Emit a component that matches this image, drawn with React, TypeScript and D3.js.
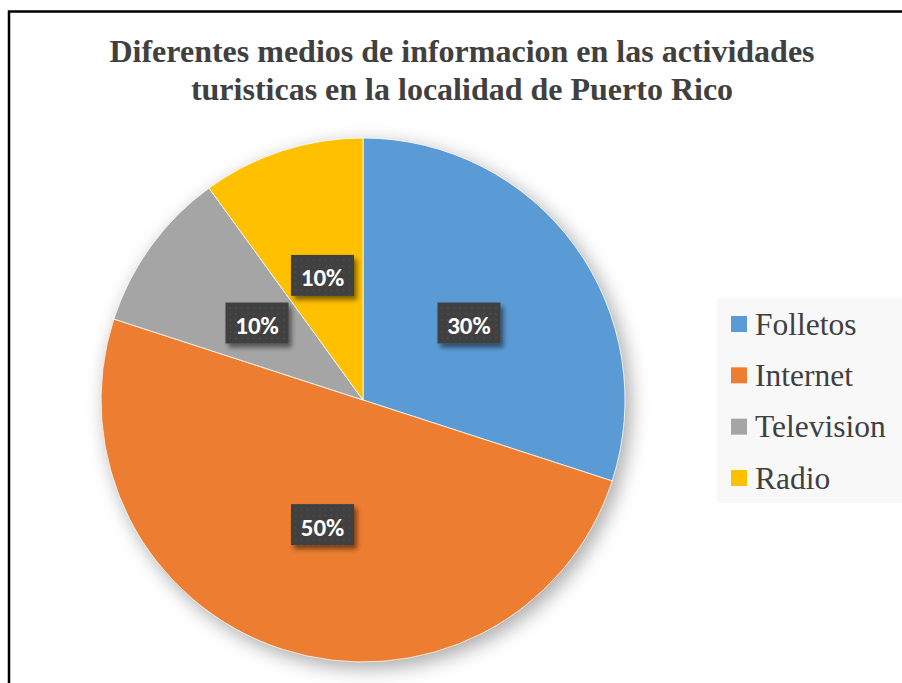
import React, { useEffect, useRef } from "react";
import * as d3 from "d3";

const categories = ["Folletos", "Internet", "Television", "Radio"];
const values = [30, 50, 10, 10];
const colors = ["#5B9BD5", "#ED7D31", "#A5A5A5", "#FFC000"];
const titleLines = [
  "Diferentes medios de informacion en las actividades",
  "turisticas en la localidad de Puerto Rico",
];

const serif = "Liberation Serif, DejaVu Serif, serif";

const App = () => {
  const ref = useRef<SVGSVGElement>(null);

  useEffect(() => {
    const width = 902;
    const height = 683;
    const svg = d3.select(ref.current);
    svg.selectAll("*").remove();
    svg.attr("width", width).attr("height", height);

    const defs = svg.append("defs");
    const shadow = defs
      .append("filter")
      .attr("id", "pieShadow")
      .attr("x", "-20%")
      .attr("y", "-20%")
      .attr("width", "140%")
      .attr("height", "140%");
    shadow.append("feGaussianBlur").attr("in", "SourceAlpha").attr("stdDeviation", 10);
    shadow.append("feOffset").attr("dx", 5).attr("dy", 6).attr("result", "b");
    shadow
      .append("feComponentTransfer")
      .append("feFuncA")
      .attr("type", "linear")
      .attr("slope", 0.35);

    const boxShadow = defs
      .append("filter")
      .attr("id", "boxShadow")
      .attr("x", "-30%")
      .attr("y", "-30%")
      .attr("width", "160%")
      .attr("height", "160%");
    boxShadow.append("feGaussianBlur").attr("in", "SourceAlpha").attr("stdDeviation", 2.5);
    boxShadow.append("feOffset").attr("dx", 3).attr("dy", 4).attr("result", "o");
    boxShadow
      .append("feComponentTransfer")
      .attr("result", "s")
      .append("feFuncA")
      .attr("type", "linear")
      .attr("slope", 0.5);
    const merge = boxShadow.append("feMerge");
    merge.append("feMergeNode").attr("in", "s");
    merge.append("feMergeNode").attr("in", "SourceGraphic");

    const pat = defs
      .append("pattern")
      .attr("id", "dots")
      .attr("width", 6)
      .attr("height", 6)
      .attr("patternUnits", "userSpaceOnUse");
    pat.append("rect").attr("width", 6).attr("height", 6).attr("fill", "#404040");
    pat.append("rect").attr("x", 2).attr("y", 2).attr("width", 2).attr("height", 2).attr("fill", "#4a4a4a");

    svg.append("rect").attr("width", width).attr("height", height).attr("fill", "#fff");

    // chart border
    svg
      .append("rect")
      .attr("x", 9)
      .attr("y", 11.5)
      .attr("width", width + 20)
      .attr("height", height + 20)
      .attr("fill", "none")
      .attr("stroke", "#000")
      .attr("stroke-width", 2.5);

    svg
      .append("text")
      .attr("x", 462)
      .attr("y", 62)
      .attr("text-anchor", "middle")
      .attr("font-family", serif)
      .attr("font-weight", "bold")
      .attr("font-size", 32)
      .attr("fill", "#404040")
      .selectAll("tspan")
      .data(titleLines)
      .enter()
      .append("tspan")
      .attr("x", 462)
      .attr("dy", (d, i) => (i === 0 ? 0 : 38))
      .text((d) => d);

    const cx = 363;
    const cy = 400;
    const radius = 262;

    const pie = d3.pie<number>().sort(null).value((d) => d);
    const arc = d3.arc<d3.PieArcDatum<number>>().innerRadius(0).outerRadius(radius);
    const labelArc = d3
      .arc<d3.PieArcDatum<number>>()
      .innerRadius(radius * 0.5)
      .outerRadius(radius * 0.5);
    const data_ready = pie(values);

    const g = svg.append("g").attr("transform", `translate(${cx},${cy})`);

    g.append("circle").attr("r", radius).attr("fill", "#000").attr("filter", "url(#pieShadow)");

    g.selectAll("path.slice")
      .data(data_ready)
      .enter()
      .append("path")
      .attr("class", "slice")
      .attr("d", arc)
      .attr("fill", (d, i) => colors[i])
      .attr("stroke", "#fff")
      .attr("stroke-width", 0.8);

    const labels = g
      .selectAll("g.lbl")
      .data(data_ready)
      .enter()
      .append("g")
      .attr("class", "lbl")
      .attr("transform", (d) => `translate(${labelArc.centroid(d)})`);

    labels
      .append("rect")
      .attr("x", -31.5)
      .attr("y", -20.5)
      .attr("width", 63)
      .attr("height", 41)
      .attr("fill", "url(#dots)")
      .attr("filter", "url(#boxShadow)");

    labels
      .append("text")
      .attr("y", 2)
      .attr("dy", "0.36em")
      .attr("text-anchor", "middle")
      .attr("font-family", "Carlito, Lato, Open Sans, sans-serif")
      .attr("font-weight", "bold")
      .attr("font-size", 25)
      .attr("fill", "#fff")
      .text((d) => `${d.data}%`);

    // legend
    const legend = svg.append("g");
    legend
      .append("rect")
      .attr("x", 717)
      .attr("y", 298)
      .attr("width", 200)
      .attr("height", 205)
      .attr("fill", "#f8f8f8");

    const rowY = d3.scalePoint<string>().domain(categories).range([324, 478]);

    const items = legend
      .selectAll("g.item")
      .data(categories)
      .enter()
      .append("g")
      .attr("class", "item")
      .attr("transform", (d) => `translate(0,${rowY(d)})`);

    items
      .append("rect")
      .attr("x", 731)
      .attr("y", -8)
      .attr("width", 16)
      .attr("height", 16)
      .attr("fill", (d, i) => colors[i]);

    items
      .append("text")
      .attr("x", 755)
      .attr("dy", "0.34em")
      .attr("font-family", serif)
      .attr("font-size", 31.5)
      .attr("fill", "#404040")
      .text((d) => d);
  }, []);

  return (
    <svg
      ref={ref}
      style={{ position: "fixed", left: 0, top: 0, display: "block" }}
    ></svg>
  );
};

export default App;
